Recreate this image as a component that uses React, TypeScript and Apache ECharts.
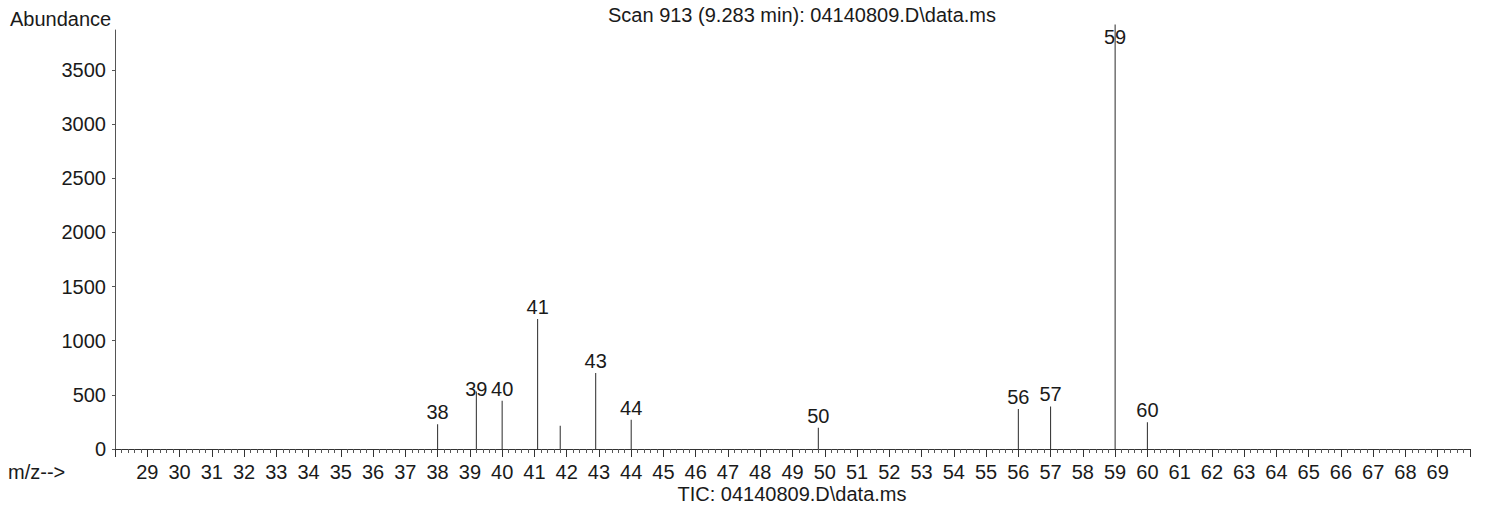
import React, { useEffect, useRef } from "react";
import * as echarts from "echarts";

const mzValues = [38.0, 39.2, 40.0, 41.1, 41.8, 42.9, 44.0, 49.8, 56.0, 57.0, 59.0, 60.0];
const abundances = [229, 530, 446, 1200, 215, 702, 271, 197, 369, 393, 3920, 247];
const peakLabels = ["38", "39", "40", "41", "", "43", "44", "50", "56", "57", "59", "60"];

const titleText = "Scan 913 (9.283 min): 04140809.D\\data.ms";
const footerText = "TIC: 04140809.D\\data.ms";
const yAxisName = "Abundance";
const xAxisName = "m/z-->";

const FONT = "Liberation Sans, Arial, sans-serif";
const FS = 20;
const INK = "#1a1a1a";

export default function App() {
  const ref = useRef<HTMLDivElement>(null);
  useEffect(() => {
    if (!ref.current) return;
    const chart = echarts.init(ref.current, undefined, { renderer: "svg" });
    const data = mzValues.map((m, i) => {
      const item: any = { value: [m, abundances[i]], name: peakLabels[i] };
      if (peakLabels[i] === "59") {
        item.label = { position: "insideTop", distance: 2 };
      } else if (peakLabels[i] === "39") {
        item.label = { offset: [0, 9] };
      }
      return item;
    });
    chart.setOption({
      animation: false,
      backgroundColor: "#ffffff",
      textStyle: { fontFamily: FONT },
      grid: { left: 115, right: 17, top: 30, bottom: 59, containLabel: false },
      xAxis: {
        type: "value",
        min: 28,
        max: 70,
        interval: 1,
        axisLine: { show: true, lineStyle: { color: "#333", width: 1 } },
        axisTick: { show: true, length: 8, lineStyle: { color: "#333" } },
        minorTick: { show: true, splitNumber: 5, length: 4, lineStyle: { color: "#555" } },
        splitLine: { show: false },
        axisLabel: {
          showMinLabel: false,
          showMaxLabel: false,
          interval: 0,
          margin: 13,
          color: INK,
          fontSize: FS,
          fontFamily: FONT,
          formatter: (v: number) => String(v),
        },
      },
      yAxis: {
        type: "value",
        min: 0,
        max: 3870,
        interval: 500,
        axisLine: { show: true, lineStyle: { color: "#555", width: 1 } },
        axisTick: { show: true, length: 3, lineStyle: { color: "#555" } },
        splitLine: { show: false },
        axisLabel: {
          showMaxLabel: false,
          margin: 9,
          color: INK,
          fontSize: FS,
          fontFamily: FONT,
          formatter: (v: number) => String(v),
        },
      },
      series: [
        {
          type: "bar",
          barWidth: 1,
          clip: false,
          itemStyle: { color: "#2a2a2a" },
          label: {
            show: true,
            position: "top",
            distance: 2,
            color: INK,
            fontSize: FS,
            fontFamily: FONT,
            formatter: (p: any) => p.name,
          },
          data,
        },
      ],
      graphic: [
        {
          type: "text",
          left: 10,
          top: 9,
          style: { text: yAxisName, fontSize: FS, fontFamily: FONT, fill: INK },
        },
        {
          type: "text",
          left: 8,
          top: 462,
          style: { text: xAxisName, fontSize: FS, fontFamily: FONT, fill: INK },
        },
        {
          type: "text",
          x: 802,
          y: 15,
          style: {
            text: titleText,
            fontSize: FS,
            fontFamily: FONT,
            fill: INK,
            textAlign: "center",
            textVerticalAlign: "middle",
          },
        },
        {
          type: "text",
          x: 792,
          y: 494,
          style: {
            text: footerText,
            fontSize: FS,
            fontFamily: FONT,
            fill: INK,
            textAlign: "center",
            textVerticalAlign: "middle",
          },
        },
      ],
    });
    return () => chart.dispose();
  }, []);
  return (
    <div
      ref={ref}
      style={{ position: "fixed", left: 0, top: 0, width: 1487, height: 508, background: "#fff" }}
    />
  );
}
